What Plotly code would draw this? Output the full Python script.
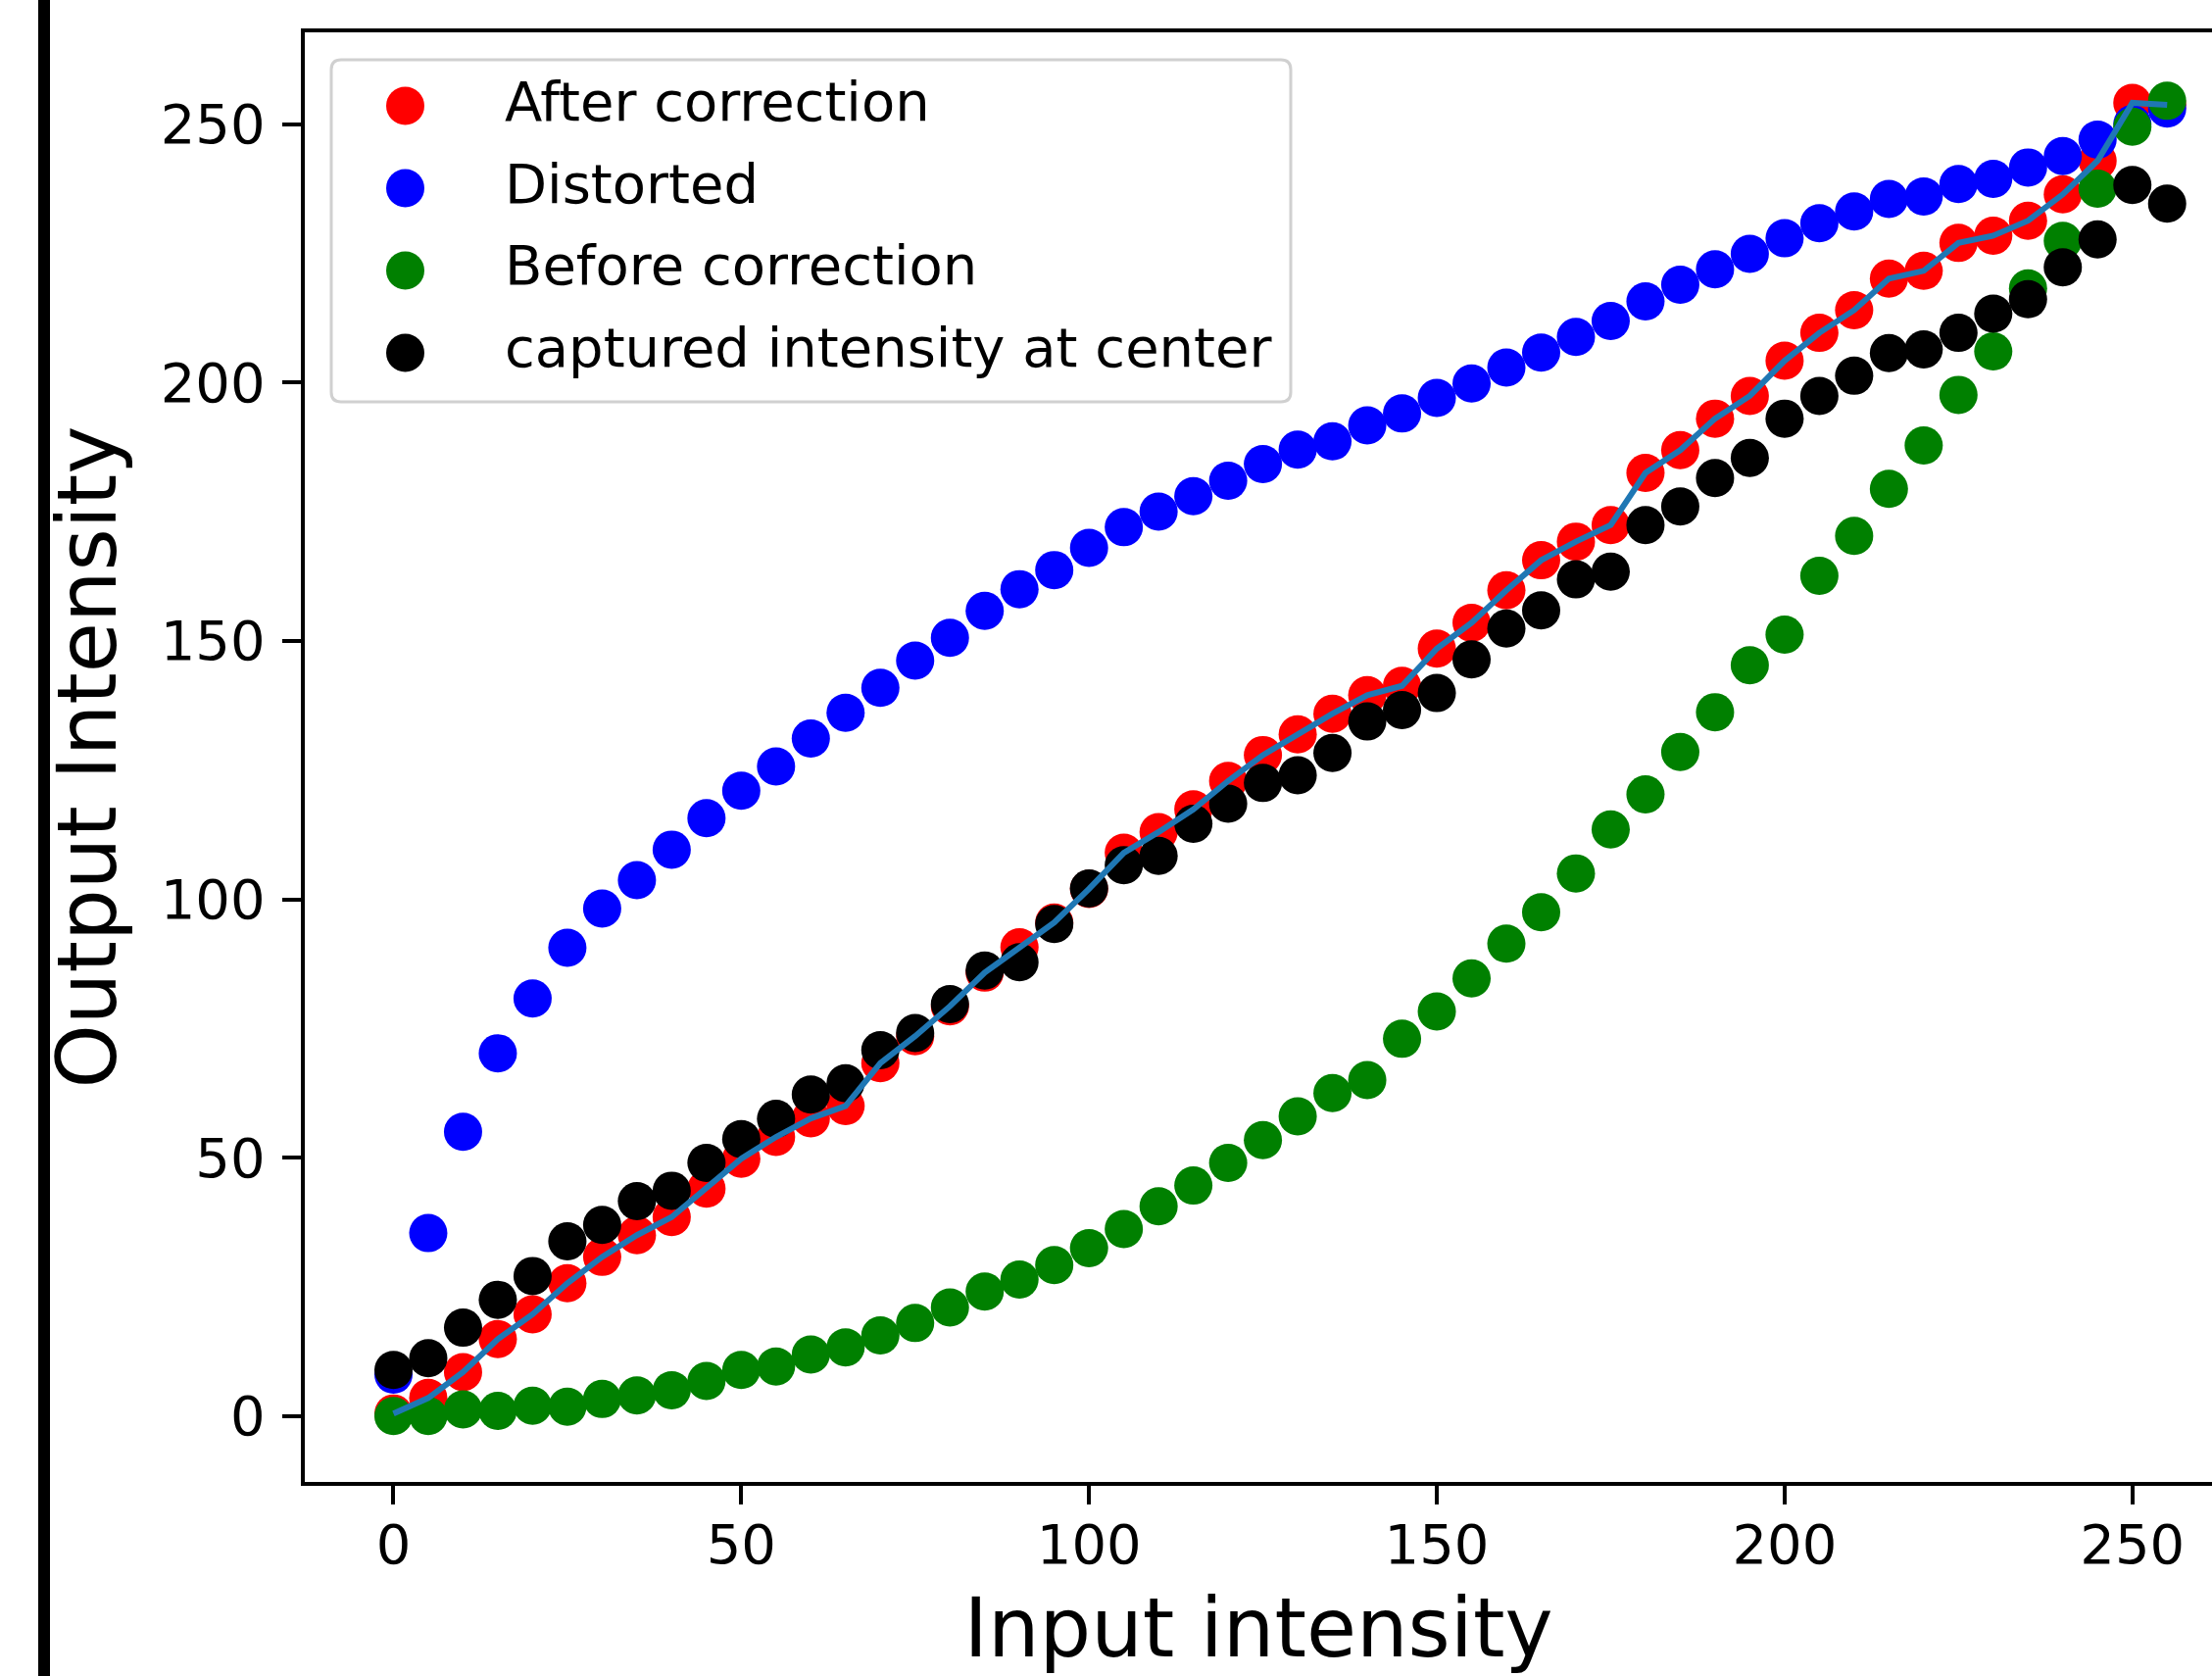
import plotly.graph_objects as go

# ---------------- data ----------------
x_input = [0, 5, 10, 15, 20, 25, 30, 35, 40, 45, 50, 55, 60, 65, 70, 75, 80, 85, 90, 95,
           100, 105, 110, 115, 120, 125, 130, 135, 140, 145, 150, 155, 160, 165, 170, 175,
           180, 185, 190, 195, 200, 205, 210, 215, 220, 225, 230, 235, 240, 245, 250, 255]

after_correction = [0.5, 3.5, 8.5, 14.9, 19.7, 25.7, 30.8, 35.0, 38.5, 44.0, 49.8, 54.0, 57.6, 60.0,
                    68.3, 73.5, 79.3, 85.8, 90.7, 95.5, 102.0, 109.0, 113.0, 117.4, 122.9, 127.9,
                    131.9, 135.9, 139.5, 141.3, 148.5, 153.5, 159.8, 165.6, 169.2, 172.4, 182.5,
                    186.9, 193.0, 197.4, 204.2, 209.6, 214.0, 220.1, 221.6, 227.0, 228.4, 231.3,
                    236.4, 242.9, 254.1, 253.7]

distorted = [8.0, 35.4, 55.0, 70.2, 80.8, 90.6, 98.2, 103.7, 109.6, 115.7, 121.0, 125.7, 131.1,
             136.1, 140.9, 146.2, 150.6, 155.8, 160.0, 163.7, 168.0, 172.0, 175.0, 178.0, 181.0,
             184.2, 187.0, 188.6, 191.7, 194.0, 197.0, 199.8, 202.9, 205.8, 208.8, 211.9, 215.7,
             218.9, 221.9, 224.9, 227.9, 230.8, 233.1, 235.5, 236.0, 238.4, 239.4, 241.6, 243.8,
             247.0, 250.0, 253.0]

before_correction = [0.0, 0.0, 1.3, 1.0, 2.0, 1.8, 3.3, 4.0, 5.0, 6.8, 8.9, 9.6, 11.9, 13.3, 15.6,
                     18.0, 21.0, 24.1, 26.4, 29.2, 32.5, 36.2, 40.6, 44.6, 49.0, 53.4, 58.0, 62.5,
                     65.0, 73.0, 78.3, 84.7, 91.4, 97.5, 105.0, 113.5, 120.3, 128.5, 136.2, 145.3,
                     151.2, 162.6, 170.3, 179.4, 187.8, 197.6, 206.0, 218.2, 227.4, 237.5, 249.5,
                     254.5]

captured_center = [8.9, 11.2, 17.1, 22.5, 27.1, 33.8, 37.0, 41.6, 43.6, 49.0, 53.6, 57.5, 62.2,
                   64.4, 70.8, 74.1, 79.7, 86.2, 87.8, 95.2, 102.1, 106.6, 108.4, 114.6, 118.5,
                   122.5, 124.0, 128.3, 134.4, 136.6, 139.9, 146.4, 152.4, 155.9, 161.9, 163.4,
                   172.4, 176.0, 181.5, 185.4, 193.0, 197.4, 201.3, 205.7, 206.4, 209.6, 213.3,
                   216.1, 222.3, 227.7, 238.2, 234.6]

series_names = ["After correction", "Distorted", "Before correction", "captured intensity at center"]
series_colors = ["#ff0000", "#0000ff", "#008000", "#000000"]
tick_values = [0, 50, 100, 150, 200, 250]
x_title = "Input intensity"
y_title = "Output Intensity"

# ---------------- layout geometry ----------------
W, H = 2257, 1710
L, R, T, B = 311, 0, 33, 198
PW, PH = W - L - R, H - T - B
FONT = "DejaVu Sans"


def px_x(p):
    return (p - L) / PW


def px_y(p):
    return (H - B - p) / PH


fig = go.Figure()
for i, (name, ys, col) in enumerate(zip(series_names,
                                        [after_correction, distorted, before_correction, captured_center],
                                        series_colors)):
    fig.add_trace(go.Scatter(
        x=x_input, y=ys, mode="markers", name=name, legendgroup=f"g{i}",
        marker=dict(color=col, size=39, line=dict(width=0)),
    ))

fig.add_trace(go.Scatter(
    x=x_input, y=after_correction, mode="lines", showlegend=False,
    line=dict(color="#1f77b4", width=6),
))

# legend frame (rounded) and large legend dots
bx0, bx1, by0, by1, rr = 338, 1317, 61, 410, 10
X0, X1 = px_x(bx0), px_x(bx1)
Y0, Y1 = px_y(by0), px_y(by1)
rx, ry = rr / PW, rr / PH
path = (f"M {X0+rx},{Y0} L {X1-rx},{Y0} Q {X1},{Y0} {X1},{Y0-ry} "
        f"L {X1},{Y1+ry} Q {X1},{Y1} {X1-rx},{Y1} L {X0+rx},{Y1} "
        f"Q {X0},{Y1} {X0},{Y1+ry} L {X0},{Y0-ry} Q {X0},{Y0} {X0+rx},{Y0} Z")
shapes = [
    dict(type="path", xref="paper", yref="paper", path=path,
         line=dict(color="#d0d0d0", width=3), fillcolor="rgba(255,255,255,0.8)", layer="above"),
    # dark frame bar at the left edge of the picture
    dict(type="rect", xref="paper", yref="paper", x0=px_x(39), x1=px_x(51),
         y0=px_y(H), y1=px_y(0), line=dict(width=0), fillcolor="#000000", layer="above"),
]
row_centers = [108, 192, 276, 360]
for yc, col in zip(row_centers, series_colors):
    shapes.append(dict(type="circle", xref="paper", yref="paper",
                       xsizemode="pixel", ysizemode="pixel",
                       xanchor=px_x(413.5), yanchor=px_y(yc),
                       x0=-19.5, x1=19.5, y0=-19.5, y1=19.5,
                       line=dict(width=0), fillcolor=col, layer="above"))

axis_common = dict(
    showgrid=False, zeroline=False, showline=True, linecolor="#000000", linewidth=4.4,
    ticks="outside", ticklen=19, tickwidth=4.4, tickcolor="#000000",
    tickfont=dict(family=FONT, size=56, color="#000000"),
    tickmode="array", tickvals=tick_values,
)

fig.update_layout(
    width=W, height=H, template="none",
    paper_bgcolor="#ffffff", plot_bgcolor="#ffffff",
    margin=dict(l=L, r=R, t=T, b=B, autoexpand=False),
    font=dict(family=FONT, color="#000000"),
    xaxis=dict(axis_common, range=[-12.75, -12.75 + PW / 7.097], mirror=True, ticklabelstandoff=-7,
               title=dict(text=x_title, font=dict(family=FONT, size=83, color="#000000"), standoff=30)),
    yaxis=dict(axis_common, range=[-12.75, 267.75], mirror=False, ticklabelstandoff=6,
               title=dict(text=y_title, font=dict(family=FONT, size=83, color="#000000"), standoff=19)),
    legend=dict(x=px_x(312), y=px_y(58), xanchor="left", yanchor="top",
                bgcolor="rgba(0,0,0,0)", borderwidth=0,
                font=dict(family=FONT, size=56, color="#000000"),
                itemwidth=193, tracegroupgap=8),
    shapes=shapes,
)

fig.write_html("out.html", config={"displayModeBar": False},
               post_script="document.body.style.margin='0';document.body.style.overflow='hidden';")
